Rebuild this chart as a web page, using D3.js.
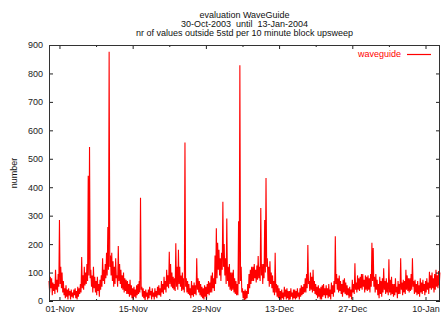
<!DOCTYPE html>
<html>
<head>
<meta charset="utf-8">
<script src="https://cdn.jsdelivr.net/npm/d3@7"></script>
<style>
  body { margin: 0; background: #fff; }
  text { font-family: "Liberation Sans", Arial, Helvetica, sans-serif; }
</style>
</head>
<body>
<div id="chart"></div>
<script>
const titleLines = [
  "evaluation WaveGuide",
  "30-Oct-2003  until  13-Jan-2004",
  "nr of values outside 5std per 10 minute block upsweep"
];
const seriesName = "waveguide";
const yLabel = "number";

// time range of the x axis and spacing of the samples
const startTime = "2003-10-30T00:00:00Z";
const endTime = "2004-01-12T18:30:00Z";
const stepHours = 3;

// counts, one value per 3 hours (one row per day)
const counts = [
  70, 30, 85, 45, 80, 20, 65, 35,       // 30-Oct
  60, 25, 110, 40, 75, 30, 95, 50,      // 31-Oct
  285, 60, 120, 45, 100, 30, 70, 20,    // 01-Nov
  45, 10, 55, 15, 40, 5, 45, 20,
  35, 5, 40, 15, 30, 10, 40, 20,
  45, 10, 35, 5, 50, 15, 45, 25,
  60, 30, 155, 45, 90, 40, 120, 55,
  100, 60, 130, 70, 440, 90, 541, 80,   // 06-Nov
  110, 50, 90, 30, 120, 45, 85, 30,
  70, 20, 85, 35, 60, 15, 75, 40,       // 08-Nov
  90, 50, 150, 70, 110, 60, 130, 80,
  170, 90, 260, 110, 876, 120, 160, 90, // 10-Nov
  170, 70, 140, 50, 120, 60, 150, 80,
  90, 50, 193, 70, 130, 60, 110, 45,
  90, 40, 100, 30, 80, 35, 75, 25,
  70, 25, 60, 15, 75, 20, 55, 10,
  45, 5, 50, 15, 40, 10, 55, 20,        // 15-Nov
  60, 25, 70, 30, 363, 40, 50, 15,
  45, 10, 35, 0, 40, 15, 30, 5,
  40, 10, 50, 20, 35, 5, 45, 15,
  30, 5, 45, 15, 35, 10, 50, 20,
  55, 20, 45, 15, 70, 30, 60, 25,
  85, 40, 70, 30, 110, 50, 90, 45,
  173, 60, 130, 50, 100, 45, 85, 40,    // 22-Nov
  80, 35, 203, 50, 120, 40, 180, 60,
  120, 50, 90, 35, 100, 40, 80, 30,
  557, 50, 80, 30, 70, 25, 60, 20,      // 25-Nov
  45, 10, 70, 20, 55, 15, 65, 25,
  55, 20, 150, 40, 80, 30, 70, 20,
  60, 15, 50, 10, 45, 5, 55, 15,
  50, 5, 60, 25, 70, 20, 65, 30,        // 29-Nov
  90, 30, 100, 45, 80, 35, 160, 60,
  256, 80, 205, 110, 180, 90, 150, 70,  // 01-Dec
  170, 110, 349, 120, 200, 90, 150, 60,
  290, 70, 120, 50, 130, 40, 100, 35,
  100, 40, 110, 30, 80, 25, 70, 20,
  60, 20, 280, 60, 829, 70, 120, 30,    // 05-Dec
  45, 10, 35, 0, 40, 5, 35, 10,
  60, 25, 95, 45, 110, 60, 120, 70,
  120, 70, 130, 80, 110, 65, 125, 75,
  158, 80, 120, 70, 327, 90, 130, 60,   // 09-Dec
  130, 80, 285, 100, 432, 120, 150, 70,
  120, 50, 140, 60, 100, 45, 90, 30,
  70, 20, 170, 30, 60, 15, 55, 10,
  45, 5, 35, 0, 40, 10, 30, 5,          // 13-Dec
  50, 15, 40, 5, 45, 10, 35, 0,
  35, 5, 45, 15, 30, 5, 40, 10,
  40, 5, 35, 10, 45, 15, 30, 5,
  45, 15, 55, 20, 50, 25, 60, 30,
  80, 30, 95, 45, 197, 60, 70, 35,      // 18-Dec
  100, 40, 85, 30, 110, 35, 70, 25,
  60, 20, 50, 10, 55, 15, 45, 5,
  50, 5, 55, 15, 60, 20, 45, 10,
  55, 20, 45, 10, 60, 15, 40, 5,
  65, 25, 55, 15, 70, 30, 228, 60,      // 23-Dec
  95, 40, 80, 30, 90, 35, 70, 25,
  60, 15, 75, 30, 80, 25, 65, 20,
  55, 20, 45, 10, 50, 15, 40, 5,
  75, 30, 60, 25, 133, 40, 65, 30,      // 27-Dec
  90, 40, 80, 35, 85, 45, 95, 40,
  95, 50, 75, 30, 90, 40, 85, 35,
  90, 40, 80, 30, 95, 50, 205, 70,
  186, 50, 85, 30, 95, 40, 75, 20,      // 31-Dec
  60, 10, 85, 25, 70, 15, 80, 30,
  115, 40, 70, 25, 80, 30, 65, 20,
  147, 30, 75, 20, 85, 25, 60, 15,      // 03-Jan
  60, 20, 80, 30, 50, 10, 70, 25,
  60, 25, 150, 40, 65, 20, 75, 30,
  70, 25, 110, 40, 90, 35, 80, 30,
  80, 35, 95, 40, 150, 50, 70, 25,      // 07-Jan
  75, 30, 60, 20, 70, 25, 55, 15,
  80, 30, 65, 25, 75, 35, 60, 20,
  70, 30, 80, 40, 65, 25, 103, 45,      // 10-Jan
  90, 40, 100, 45, 80, 30, 95, 40,
  110, 50, 90, 45, 105, 55, 100         // 12-Jan
];

const majorTicks = ["2003-11-01", "2003-11-15", "2003-11-29", "2003-12-13", "2003-12-27", "2004-01-10"];
const minorTicks = ["2003-11-08", "2003-11-22", "2003-12-06", "2003-12-20", "2004-01-03"];
const yTicks = [0, 100, 200, 300, 400, 500, 600, 700, 800, 900];

const W = 441, H = 313;
const margin = {top: 45, right: 1, bottom: 12, left: 49};
const width = W - margin.left - margin.right;
const height = H - margin.top - margin.bottom;

const data = counts.map((v, i) => ({
  t: new Date(Date.parse(startTime) + i * stepHours * 3600e3),
  v: v
}));

const svg = d3.select("#chart")
    .append("svg")
    .attr("width", W)
    .attr("height", H)
    .style("display", "block");

const g = svg.append("g")
    .attr("transform", `translate(${margin.left}, ${margin.top})`);

const x = d3.scaleUtc()
    .domain([new Date(startTime), new Date(endTime)])
    .range([0, width]);

const y = d3.scaleLinear()
    .domain([0, 900])
    .range([height, 0]);

const fmt = d3.utcFormat("%d-%b");
const majors = majorTicks.map(d => new Date(d + "T00:00:00Z"));
const minors = minorTicks.map(d => new Date(d + "T00:00:00Z"));

function styleAxis(sel) {
  sel.select(".domain").remove();
  sel.selectAll(".tick line").attr("stroke", "#222");
  sel.selectAll(".tick text")
    .attr("fill", "#222")
    .style("font-size", "9px")
    .style("font-family", '"Liberation Sans", Arial, sans-serif');
}

// the series (drawn first so the frame and ticks sit on top)
const line = d3.line()
    .x(d => x(d.t))
    .y(d => y(d.v));

g.append("path")
    .datum(data)
    .attr("fill", "none")
    .attr("stroke", "#ff0000")
    .attr("stroke-width", 1.1)
    .attr("stroke-linejoin", "miter")
    .attr("d", line);

// bottom axis with labels
g.append("g")
    .attr("transform", `translate(0, ${height})`)
    .call(d3.axisBottom(x).tickValues(majors).tickFormat(fmt).tickSize(-4).tickPadding(5))
    .call(styleAxis);
g.append("g")
    .attr("transform", `translate(0, ${height})`)
    .call(d3.axisBottom(x).tickValues(minors).tickFormat("").tickSize(-2))
    .call(styleAxis);

// top mirror ticks
g.append("g")
    .call(d3.axisTop(x).tickValues(majors).tickFormat("").tickSize(-4))
    .call(styleAxis);
g.append("g")
    .call(d3.axisTop(x).tickValues(minors).tickFormat("").tickSize(-2))
    .call(styleAxis);

// left axis with labels, right mirror ticks
g.append("g")
    .call(d3.axisLeft(y).tickValues(yTicks).tickSize(-4).tickPadding(6))
    .call(styleAxis);
g.append("g")
    .attr("transform", `translate(${width}, 0)`)
    .call(d3.axisRight(y).tickValues(yTicks).tickFormat("").tickSize(-4))
    .call(styleAxis);

// plot border
g.append("rect")
    .attr("x", 0.5)
    .attr("y", 0.5)
    .attr("width", width - 1)
    .attr("height", height - 1)
    .attr("fill", "none")
    .attr("stroke", "#333")
    .attr("stroke-width", 1);

// titles
svg.selectAll(".title")
    .data(titleLines)
    .join("text")
    .attr("class", "title")
    .attr("x", margin.left + width / 2)
    .attr("y", (d, i) => 18 + i * 8.8)
    .attr("text-anchor", "middle")
    .style("font-size", "9px")
    .style("white-space", "pre")
    .attr("fill", "#111")
    .text(d => d);

// y axis label
svg.append("text")
    .attr("transform", "translate(17, 173) rotate(-90)")
    .attr("text-anchor", "middle")
    .style("font-size", "9px")
    .attr("fill", "#111")
    .text(yLabel);

// legend
svg.append("text")
    .attr("x", 401)
    .attr("y", 57)
    .attr("text-anchor", "end")
    .style("font-size", "9px")
    .attr("fill", "#ff0000")
    .text(seriesName);
svg.append("line")
    .attr("x1", 407)
    .attr("x2", 431)
    .attr("y1", 54.5)
    .attr("y2", 54.5)
    .attr("stroke", "#ff0000")
    .attr("stroke-width", 1.2);
</script>
</body>
</html>
